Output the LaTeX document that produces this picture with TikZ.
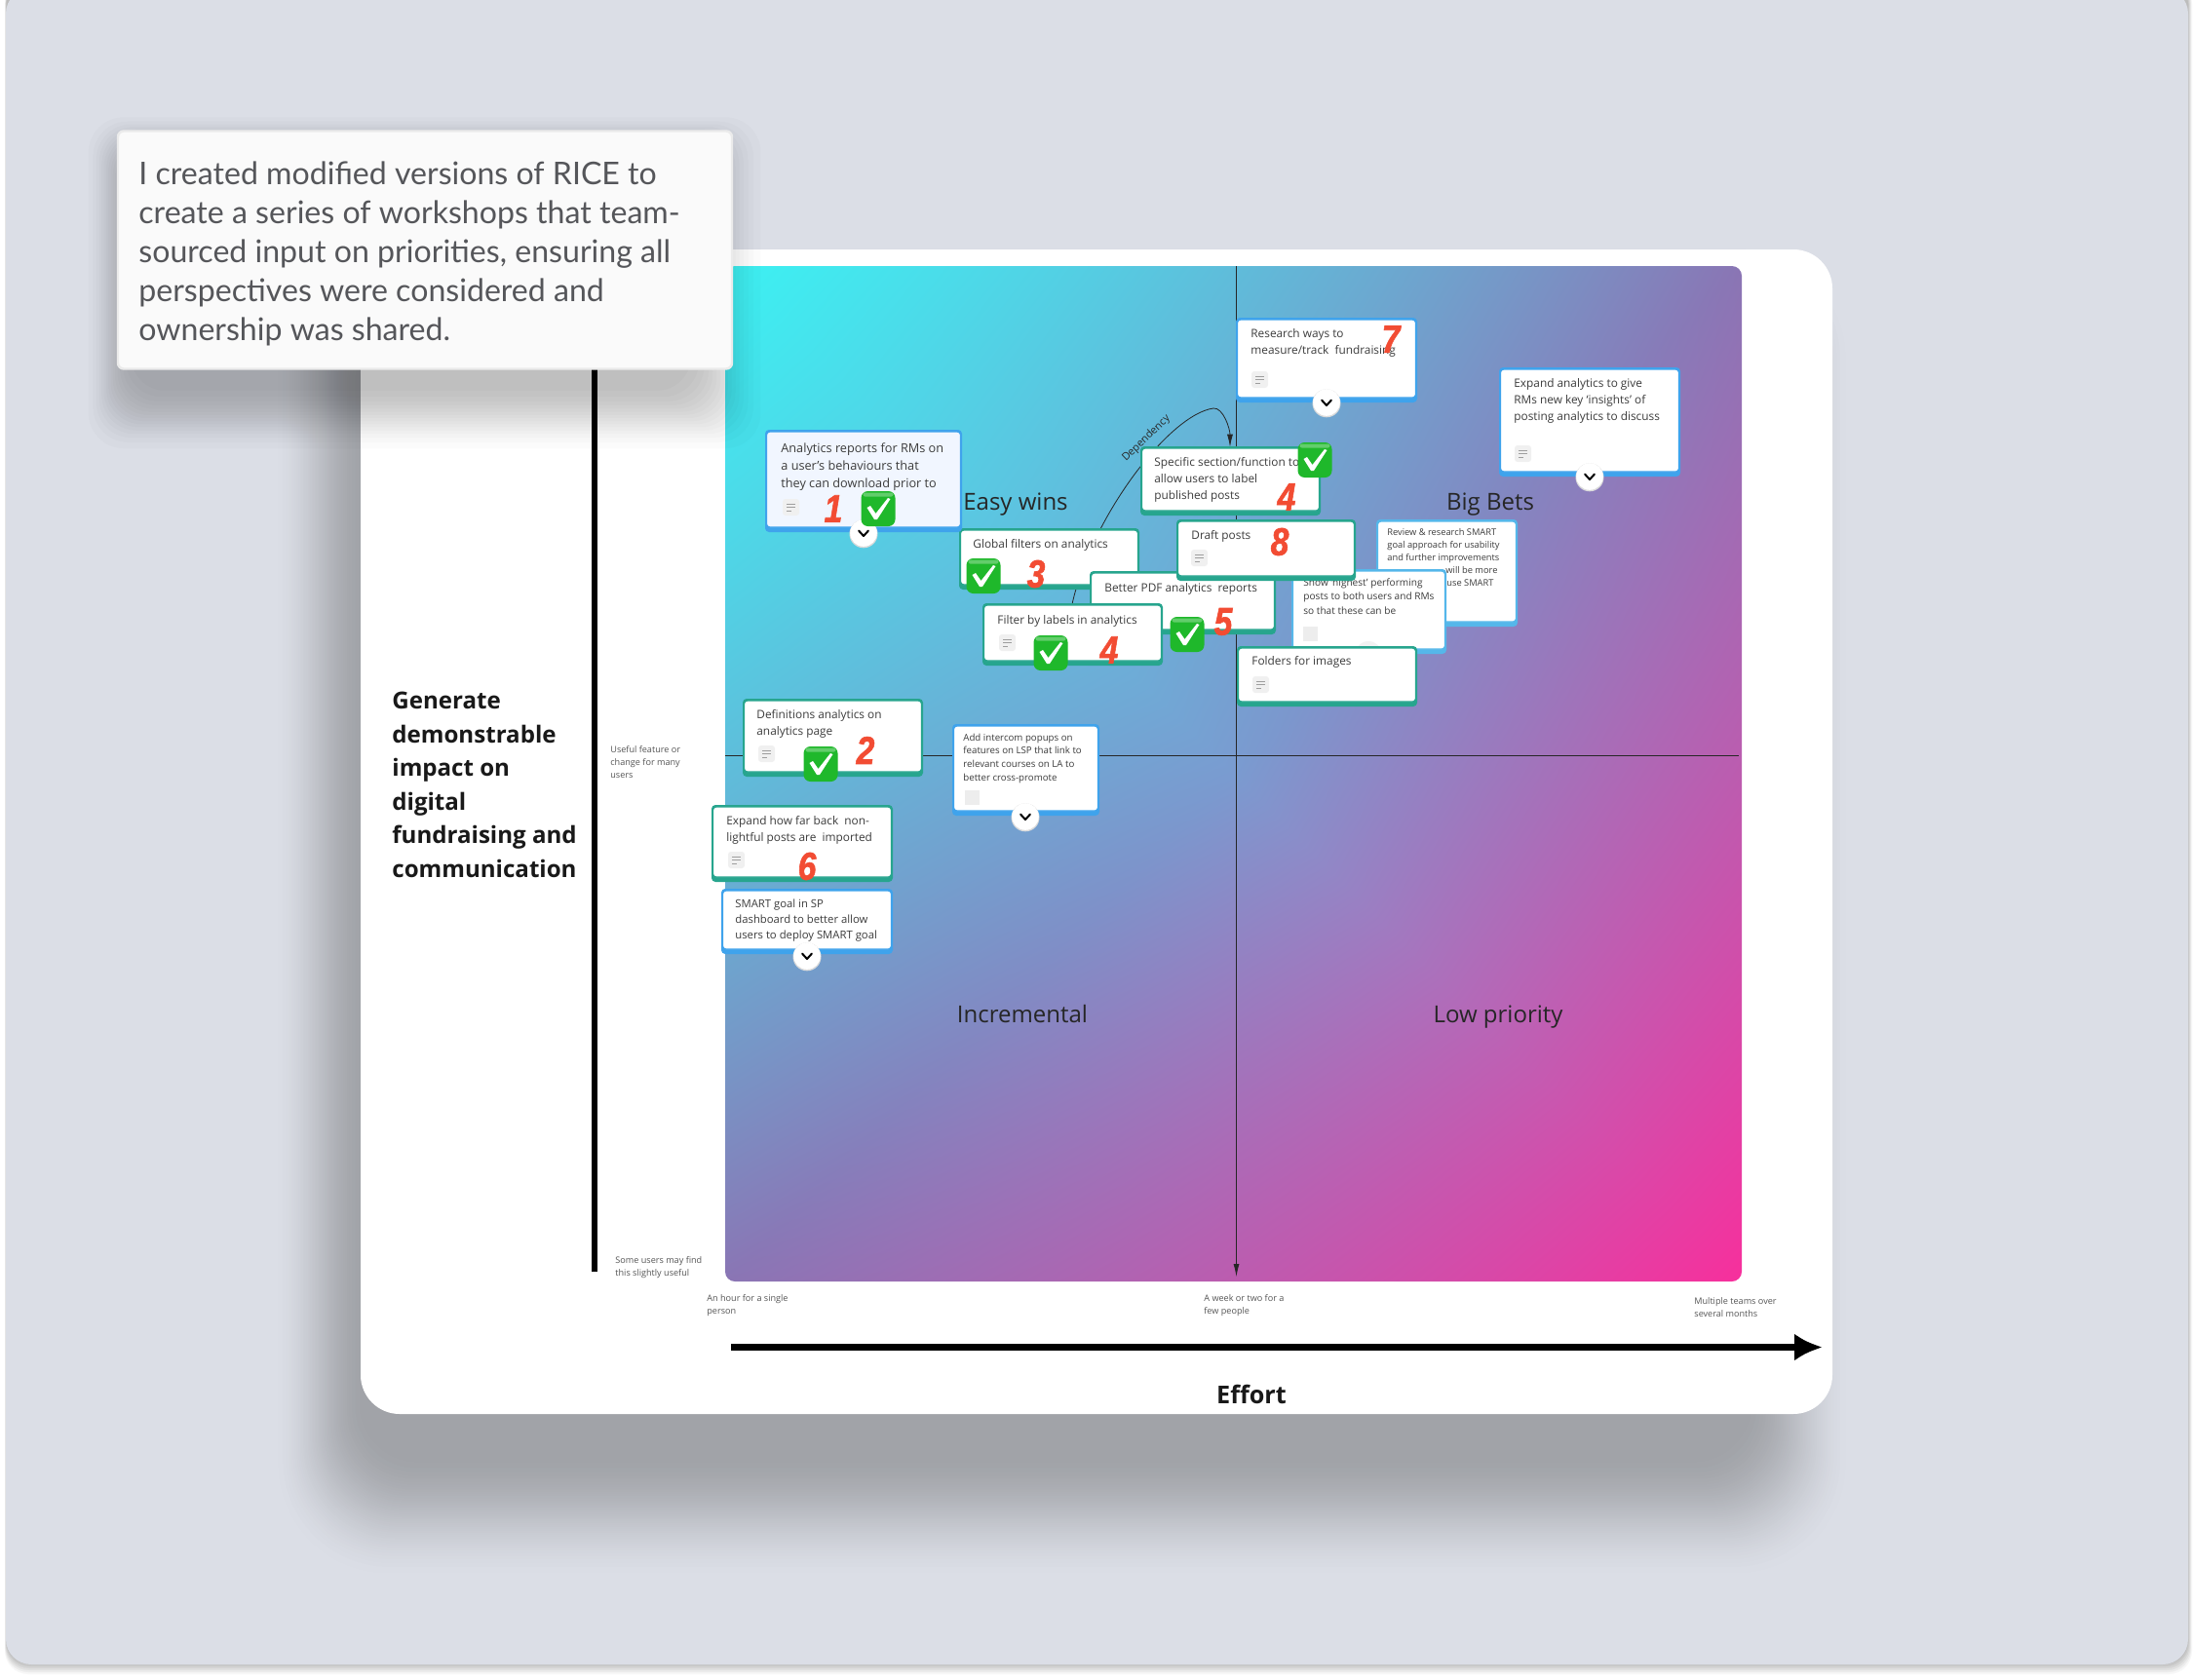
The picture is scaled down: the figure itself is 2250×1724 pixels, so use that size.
\documentclass[tikz,border=0pt]{standalone}
\usepackage{fontspec}
\setmainfont{Open Sans}
\newfontfamily\calloutfont{Lato}
\newfontfamily\numfont{Liberation Sans}[FakeBold=1.6]
\usetikzlibrary{arrows.meta}
\definecolor{bgpanel}{HTML}{DBDEE6}
\definecolor{shdark}{HTML}{A1A3A8}
\definecolor{tealc}{HTML}{27A58E}
\definecolor{bluec}{HTML}{3FA3EC}
\definecolor{lblue}{HTML}{55B7EA}
\definecolor{analyticsfill}{HTML}{F1F6FF}
\definecolor{cardtxtc}{HTML}{3C3C3C}
\definecolor{redn}{HTML}{F24C33}
\definecolor{greenc}{HTML}{1FB82B}
\definecolor{calltxt}{HTML}{55565A}
\definecolor{smallc}{HTML}{555555}
\pgfdeclarefunctionalshading{quadgrad}{\pgfpointorigin}{\pgfpoint{100bp}{100bp}}{}{
  25 sub 50 div exch 25 sub 50 div exch
  2 copy sub 1 add 2 div
  3 1 roll add 1 sub abs
  dup 0.063 mul 0.478 add
  2 index 0.5 lt {0.235 sub 2 index 2 mul mul 0.235 add} {0.969 exch sub 2 index 1 exch sub 2 mul mul 0.969 exch sub} ifelse
  3 1 roll
  dup -0.149 mul 0.608 add
  2 index 0.5 lt {0.945 sub 2 index 2 mul mul 0.945 add} {0.184 exch sub 2 index 1 exch sub 2 mul mul 0.184 exch sub} ifelse
  3 1 roll
  dup -0.110 mul 0.816 add
  2 index 0.5 lt {0.95 sub 2 index 2 mul mul 0.95 add} {0.612 exch sub 2 index 1 exch sub 2 mul mul 0.612 exch sub} ifelse
  3 1 roll pop pop
}
\tikzset{
  cardbody/.style={rectangle,rounded corners=1.5pt,fill=white,line width=.7pt,inner sep=0pt},
  cardtxt/.style={anchor=north west,inner sep=0pt,align=left,text=cardtxtc},
  smalllab/.style={anchor=north west,inner sep=0pt,align=left,text=smallc,font=\fontsize{4.55}{6.6}\selectfont},
  quadlab/.style={anchor=base,inner sep=0pt,text=black!85,font=\fontsize{12}{15}\selectfont},
  bignumber/.style={inner sep=0pt,text=redn,font=\numfont\bfseries\itshape\fontsize{20}{20}\selectfont},
  conn/.style={line width=.4pt,black!85}
}
% #1 id, #2 colour, #3 x1, #4 y1, #5 x2, #6 y2, #7 fill
\newcommand{\card}[7]{%
  \fill[#2,rounded corners=2pt] (#3,#4) rectangle (#5,#6);
  \pgfmathsetlengthmacro{\cw}{(#5-#3-3)*0.5pt}%
  \pgfmathsetlengthmacro{\ch}{(#6-#4-7)*0.5pt}%
  \node[cardbody,draw=#2,fill=#7,minimum width=\cw,minimum height=\ch] (#1) at ({(#3+#5)/2},{(#4+#6)/2-1.5}) {};
}
% #1 id, #2 x, #3 y centre of 1st line, #4 size pt, #5 lead pt, #6 text
\newcommand{\ctext}[6]{%
  \node[cardtxt,font=\fontsize{#4}{#5}\selectfont] (#1) at ({#2},{#3-#4+.3}) {#6};
}
\newcommand{\noteicon}[2]{%
  \fill[black!6,rounded corners=1.5pt] (#1,#2) rectangle ++(17,17);
  \draw[black!38,line width=.45pt] (#1+4,#2+5) -- ++(9,0) (#1+4,#2+8.5) -- ++(9,0) (#1+4,#2+12) -- ++(5,0);
}
\newcommand{\fadedicon}[2]{%
  \fill[black!7] (#1,#2) rectangle ++(15,15);
}
\newcommand{\chkbadge}[2]{%
  \begin{scope}[shift={(#1,#2)}]
    \fill[greenc,rounded corners=3.5pt] (-17.5,-18) rectangle (17.5,18);
    \fill[white,opacity=.3,rounded corners=1pt] (-15.5,-16.5) rectangle (15.5,-12.5);
    \fill[white] (-11.5,-1) -- (-8,-3) -- (-2.5,5) -- (10,-11) -- (12.5,-10) -- (-1,11) -- (-4,11) -- cycle;
  \end{scope}
}
\newcommand{\chev}[2]{%
  \fill[black!14] (#1,#2+.8) circle[radius=14.5];
  \fill[white] (#1,#2) circle[radius=13.8];
  \draw[black,line width=1pt,line cap=round,line join=round] (#1-5,#2-2.5) -- (#1,#2+3) -- (#1+5,#2-2.5);
}
\newcommand{\bignum}[4]{\node[bignumber] (#1) at (#2,#3) {\scalebox{.84}[1]{#4}};}
\begin{document}
\begin{tikzpicture}[x=.5pt,y=-.5pt]
\useasboundingbox (0,0) rectangle (2250,1724);
\fill[white] (0,0) rectangle (2250,1724);
% outer panel and its edge shadow
\foreach \i in {5,4,3,2,1,0}{
  \pgfmathsetmacro{\shC}{3+(5-\i)*4.6}
  \fill[black!\shC,rounded corners=12pt] ({6.5-.3*\i},-20) rectangle ({2245+\i*.8},{1708+\i*2});
}
\fill[bgpanel,rounded corners=13pt] (6,-12) rectangle (2245,1708);
% big card shadow
\foreach \i in {0,1,...,44}{
  \pgfmathsetmacro{\shT}{(\i+.5)/45}
  \pgfmathsetmacro{\shP}{.5-sin(asin(1-2*\shT)/3)}
  \pgfmathsetmacro{\shC}{(\i+1)/45*100}
  \pgfmathsetmacro{\shR}{58-\shP*30}
  \fill[shdark!\shC!bgpanel,rounded corners=\shR pt] ({280+\shP*95},{250+\shP*90}) rectangle ({1900-\shP*110},{1622-\shP*130});
}
\fill[white,rounded corners=20pt] (370,256) rectangle (1880,1451);
% gradient quadrant field
\path[shading=quadgrad,rounded corners=5pt] (744,273) rectangle (1787,1315);
% axes
\coordinate (hl) at (744,775); \coordinate (hr) at (1784,775);
\coordinate (vt) at (1268.5,273); \coordinate (vb) at (1268.5,1310);
\draw[conn] (hl) -- (hr);
\draw[conn,-{Latex[length=6.5pt,width=3pt]}] (vt) -- (vb);
% impact axis and effort axis
\coordinate (impT) at (610,300); \coordinate (impB) at (610,1305);
\draw[black,line width=3.2pt] (impT) -- (impB);
\coordinate (effL) at (750,1382.5); \coordinate (effR) at (1870,1382.5);
\draw[black,line width=3.4pt,-{Latex[length=14.5pt,width=14pt]}] (effL) -- (effR);
% labels
\node[anchor=north west,inner sep=0pt,align=left,font=\bfseries\fontsize{12.05}{17.25}\selectfont,text=black!90] (impact) at (402,710)
  {Generate\\demonstrable\\impact on\\digital\\fundraising and\\communication};
\node[inner sep=0pt,font=\bfseries\fontsize{12.6}{15}\selectfont,text=black!90] (effort) at (1284,1431) {Effort};
\node[smalllab] (l1) at (626,765) {Useful feature or\\change for many\\users};
\node[smalllab] (l2) at (631,1289) {Some users may find\\this slightly useful};
\node[smalllab] (l3) at (725,1328) {An hour for a single\\person};
\node[smalllab] (l4) at (1235,1328) {A week or two for a\\few people};
\node[smalllab] (l5) at (1738,1331) {Multiple teams over\\several months};
\node[quadlab] (q1) at (1042,523) {Easy wins};
\node[quadlab] (q2) at (1529,523) {Big Bets};
\node[quadlab] (q3) at (1049,1049) {Incremental};
\node[quadlab] (q4) at (1537,1049) {Low priority};
% cards far behind
\card{research}{bluec}{1268}{326}{1454}{413}{white}
\ctext{researcht}{1283}{343}{5.92}{8.35}{Research ways to\\measure/track\ \ fundraising}
\noteicon{1284}{381}
\chev{1361}{413}
\bignum{n7}{1427}{348}{7}
\card{expand}{bluec}{1538}{377}{1724}{489}{white}
\ctext{expandt}{1553}{394}{5.92}{8.55}{Expand analytics to give\\RMs new key `insights' of\\posting analytics to discuss}
\noteicon{1554}{457}
\chev{1631}{489}
\coordinate (dep) at (1245,419);
\card{review}{lblue}{1412}{533}{1557}{643}{white}
\ctext{reviewt}{1423}{546}{4.65}{6.65}{Review \& research SMART\\goal approach for usability\\and further improvements}
\node[cardtxt,font=\fontsize{4.65}{6.65}\selectfont] (reviewb) at (1483,581) {will be more};
\node[cardtxt,font=\fontsize{4.65}{6.65}\selectfont] (reviewc) at (1484,594) {use SMART};
\card{show}{lblue}{1325}{584}{1484}{671}{white}
\ctext{showt}{1337}{598}{5.05}{7.25}{Show `highest' performing\\posts to both users and RMs\\so that these can be}
\fadedicon{1337}{643}
\fill[black!5] (1404,672) circle[radius=14];
\card{folders}{tealc}{1269}{663}{1454}{725}{white}
\ctext{folderst}{1284}{679}{5.92}{8}{Folders for images}
\noteicon{1285}{694}
% dependency line passes behind the cards it joins
\node[inner sep=0pt,minimum size=0pt] (filtanchor) at (1100,620) {};
\node[inner sep=0pt,minimum size=0pt] (specanchor) at (1262,459) {};
\draw[conn,-{Latex[length=6.5pt,width=3pt]}] (filtanchor) .. controls (1120,530) and (1200,425) .. (dep) .. controls (1255,418) and (1262,440) .. (specanchor);
\node[rotate=44,inner sep=0pt,font=\fontsize{5.4}{7}\selectfont,text=black!85] (deplabel) at (1176,450) {Dependency};
\card{spec}{tealc}{1170}{458}{1355}{529}{white}
\ctext{spect}{1184}{475}{5.92}{8.35}{Specific section/function to\\allow users to label\\published posts}
\bignum{n4a}{1320}{510}{4}
\chkbadge{1349}{472}
\card{globalf}{tealc}{984}{542}{1169}{605}{white}
\ctext{globalt}{998}{559}{5.92}{8}{Global filters on analytics}
\chkbadge{1009}{591}
\bignum{n3}{1063}{589}{3}
\card{pdf}{tealc}{1118}{586}{1309}{651}{white}
\ctext{pdft}{1133}{604}{5.92}{8}{Better PDF analytics\ \ reports}
\chkbadge{1218}{651}
\bignum{n5}{1255}{638}{5}
\card{filt}{tealc}{1008}{619}{1193}{683}{white}
\ctext{filtt}{1023}{637}{5.92}{8}{Filter by labels in analytics}
\noteicon{1025}{651}
\chkbadge{1078}{670}
\bignum{n4b}{1138}{667}{4}
\card{draft}{tealc}{1207}{533}{1391}{596}{white}
\ctext{draftt}{1222}{550}{5.92}{8}{Draft posts}
\noteicon{1222}{564}
\bignum{n8}{1313}{556}{8}
\card{analytics}{bluec}{785}{441}{987}{546}{analyticsfill}
\ctext{analyticst}{801}{460}{6.35}{9.15}{Analytics reports for RMs on\\a user's behaviours that\\they can download prior to}
\noteicon{803}{512}
\chev{886}{547}
\bignum{n1}{855}{522}{1}
\chkbadge{901}{522}
\card{defs}{tealc}{762}{717}{947}{797}{white}
\ctext{defst}{776}{734}{5.92}{8.5}{Definitions analytics on\\analytics page}
\noteicon{778}{765}
\chkbadge{842}{784}
\bignum{n2}{888}{770}{2}
\card{intercom}{bluec}{977}{743}{1128}{837}{white}
\ctext{intercomt}{988}{757}{4.85}{6.85}{Add intercom popups on\\features on LSP that link to\\relevant courses on LA to\\better cross-promote}
\fadedicon{990}{811}
\chev{1052}{838}
\card{expandh}{tealc}{730}{826}{916}{905}{white}
\ctext{expandht}{745}{843}{5.92}{8.5}{Expand how far back\ \ non-\\lightful posts are\ \ imported}
\noteicon{747}{874}
\bignum{n6}{828}{889}{6}
\card{smart}{bluec}{740}{912}{916}{979}{white}
\ctext{smartt}{754}{928}{5.65}{7.9}{SMART goal in SP\\dashboard to better allow\\users to deploy SMART goal}
\chev{828}{981}
% callout
\foreach \i in {0,1,...,15}{
  \pgfmathsetmacro{\shT}{(\i+.5)/16}
  \pgfmathsetmacro{\shP}{.5-sin(asin(1-2*\shT)/3)}
  \fill[black,opacity=.015,rounded corners=18pt] ({85+\shP*55},{115+\shP*50}) rectangle ({790-\shP*90},{468-\shP*75});
}
\node[rectangle,rounded corners=3pt,fill=white!98!black,draw=black!8,line width=1.2pt,minimum width=315pt,minimum height=122pt,inner sep=0pt] (callout) at (436,256.5) {};
\node[anchor=north west,inner sep=0pt,align=left,text=calltxt,font=\calloutfont\fontsize{16.05}{20}\selectfont] (callouttxt) at (142,165)
 {I created modified versions of RICE to\\create a series of workshops that team-\\sourced input on priorities, ensuring all\\perspectives were considered and\\ownership was shared.};
\end{tikzpicture}
\end{document}
